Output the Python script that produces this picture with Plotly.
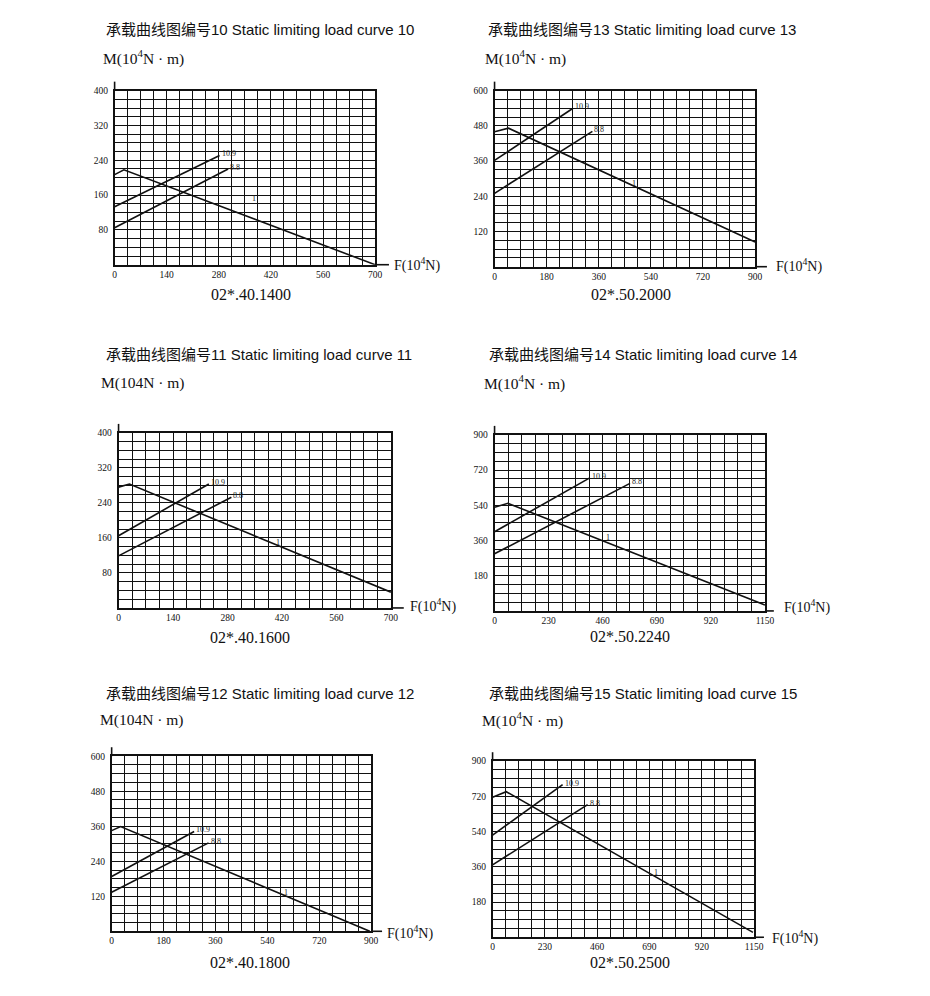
import plotly.graph_objects as go

# page body adds an offset; figure drawn slightly smaller and shifted
OFF_X, OFF_Y = 8, 9
W, H = 914, 980

# ---------------- data ----------------
curve_ids = [10, 13, 11, 14, 12, 15]
models = ["02*.40.1400", "02*.50.2000", "02*.40.1600", "02*.50.2240", "02*.40.1800", "02*.50.2500"]
m_units = ["M(10<sup>4</sup>N · m)", "M(10<sup>4</sup>N · m)", "M(104N · m)",
           "M(10<sup>4</sup>N · m)", "M(104N · m)", "M(10<sup>4</sup>N · m)"]
f_unit = "F(10<sup>4</sup>N)"

x_max = [700, 900, 700, 1150, 900, 1150]
y_max = [400, 600, 400, 900, 600, 900]
x_ticks = [[0, 140, 280, 420, 560, 700],
           [0, 180, 360, 540, 720, 900],
           [0, 140, 280, 420, 560, 700],
           [0, 230, 460, 690, 920, 1150],
           [0, 180, 360, 540, 720, 900],
           [0, 230, 460, 690, 920, 1150]]
y_ticks = [[80, 160, 240, 320, 400],
           [120, 240, 360, 480, 600],
           [80, 160, 240, 320, 400],
           [180, 360, 540, 720, 900],
           [120, 240, 360, 480, 600],
           [180, 360, 540, 720, 900]]
x_minor = [35, 45, 35, 57.5, 45, 57.5]
y_minor = [20, 30, 20, 45, 30, 45]

# curve "1"
c1_f = [[0, 25, 700], [0, 48, 900], [0, 28, 700], [0, 57, 1150], [0, 31, 895], [0, 60, 1145]]
c1_m = [[207, 218, 0], [460, 472, 84], [276, 283, 36], [530, 550, 30], [345, 359, 0], [716, 744, 25]]
# curve "10.9"
c109_f = [[0, 282], [0, 271], [0, 232], [0, 405], [0, 286], [0, 308]]
c109_m = [[133, 251], [362, 540], [165, 283], [405, 680], [188, 342], [522, 780]]
# curve "8.8"
c88_f = [[0, 305], [0, 338], [0, 290], [0, 576], [0, 336], [0, 418]]
c88_m = [[85, 220], [250, 461], [119, 253], [292, 652], [134, 303], [370, 678]]

# ---------------- layout config (reference pixel positions) ----------------
boxes = [(114, 87, 378, 262), (499, 87, 763, 264), (118, 431, 394, 607),
         (499, 433, 773, 610), (111, 756, 374, 932), (497, 761, 762, 938)]
title_pos = [(103, 26), (490, 26), (103, 352), (491, 352), (103, 693), (491, 693)]
m_pos = [(100, 54), (487, 54), (98, 381), (486, 380), (97, 720), (484, 719)]
f_pos = [(395, 262), (782, 263), (411, 605), (790, 606), (388, 933), (778, 938)]
sub_pos = [(252, 292), (637, 292), (251, 637), (636, 636), (251, 963), (636, 963)]
x_ext = [392, 775, 407, 782, 385, 772]
one_label_at = [(374, 151), (483, 285), (409, 150), (484, 377), (603, 133), (720, 333)]

SERIF = "Liberation Serif, Times New Roman, serif"
SANS = "Liberation Sans, Arial, Noto Sans CJK SC, sans-serif"
INK = "#111111"

def px(x):
    return (x - OFF_X) / W

def py(y):
    return 1 - (y - OFF_Y) / H

fig = go.Figure()
annotations = []
shapes = []

for i in range(6):
    n = "" if i == 0 else str(i + 1)
    xa, ya = "x" + n, "y" + n
    l, t, r, b = boxes[i]
    line = dict(color=INK, width=1.6)
    fig.add_trace(go.Scatter(x=c1_f[i], y=c1_m[i], mode="lines", line=line,
                             xaxis=xa, yaxis=ya, showlegend=False, hoverinfo="skip"))
    fig.add_trace(go.Scatter(x=c109_f[i], y=c109_m[i], mode="lines", line=line,
                             xaxis=xa, yaxis=ya, showlegend=False, hoverinfo="skip"))
    fig.add_trace(go.Scatter(x=c88_f[i], y=c88_m[i], mode="lines", line=line,
                             xaxis=xa, yaxis=ya, showlegend=False, hoverinfo="skip"))

    common_grid = dict(showgrid=True, gridcolor=INK, gridwidth=1.4,
                       showline=True, linecolor=INK, linewidth=1.6, mirror=True,
                       zeroline=False, ticks="",
                       tickfont=dict(family=SERIF, size=9.5, color="#111"))
    fig.layout["xaxis" + n] = dict(
        domain=[px(l), px(r)], anchor=ya, range=[0, x_max[i]],
        tickmode="array", tickvals=x_ticks[i], ticktext=[str(v) for v in x_ticks[i]],
        minor=dict(dtick=x_minor[i], tick0=0, showgrid=True, gridcolor=INK, gridwidth=1.4),
        ticklabelstandoff=0, **common_grid)
    fig.layout["yaxis" + n] = dict(
        domain=[py(b), py(t)], anchor=xa, range=[0, y_max[i]],
        tickmode="array", tickvals=y_ticks[i], ticktext=[str(v) for v in y_ticks[i]],
        minor=dict(dtick=y_minor[i], tick0=0, showgrid=True, gridcolor=INK, gridwidth=1.4),
        ticklabelstandoff=3, **common_grid)

    # axis extensions
    shapes.append(dict(type="line", xref="paper", yref="paper",
                       x0=px(r), x1=px(x_ext[i]), y0=py(b), y1=py(b),
                       line=dict(color=INK, width=1.6)))
    shapes.append(dict(type="line", xref="paper", yref="paper",
                       x0=px(l), x1=px(l), y0=py(t), y1=py(t - 9),
                       line=dict(color=INK, width=1.6)))

    # texts
    tx, ty = title_pos[i]
    annotations.append(dict(text=f"承载曲线图编号{curve_ids[i]} Static limiting load curve {curve_ids[i]}",
                            x=px(tx), y=py(ty), xref="paper", yref="paper",
                            xanchor="left", yanchor="middle", showarrow=False,
                            font=dict(family=SANS, size=15, color="#111")))
    mx, my = m_pos[i]
    annotations.append(dict(text=m_units[i], x=px(mx), y=py(my), xref="paper", yref="paper",
                            xanchor="left", yanchor="middle", showarrow=False,
                            font=dict(family=SERIF, size=15.5, color="#111")))
    fx, fy = f_pos[i]
    annotations.append(dict(text=f_unit, x=px(fx), y=py(fy), xref="paper", yref="paper",
                            xanchor="left", yanchor="middle", showarrow=False,
                            font=dict(family=SERIF, size=14, color="#111")))
    sx, sy = sub_pos[i]
    annotations.append(dict(text=models[i], x=px(sx), y=py(sy), xref="paper", yref="paper",
                            xanchor="center", yanchor="middle", showarrow=False,
                            font=dict(family=SERIF, size=16, color="#111")))
    # line labels
    annotations.append(dict(text="10.9", x=c109_f[i][-1], y=c109_m[i][-1], xref=xa, yref=ya,
                            xanchor="left", yanchor="bottom", xshift=0, yshift=-5, showarrow=False,
                            font=dict(family=SERIF, size=8, color="#222")))
    annotations.append(dict(text="8.8", x=c88_f[i][-1], y=c88_m[i][-1], xref=xa, yref=ya,
                            xanchor="left", yanchor="bottom", xshift=0, yshift=-5, showarrow=False,
                            font=dict(family=SERIF, size=8, color="#222")))
    ox, oy = one_label_at[i]
    annotations.append(dict(text="1", x=ox, y=oy, xref=xa, yref=ya,
                            xanchor="center", yanchor="middle", showarrow=False,
                            font=dict(family=SERIF, size=8, color="#222")))

fig.update_layout(width=W, height=H, margin=dict(l=0, r=0, t=0, b=0),
                  paper_bgcolor="white", plot_bgcolor="white",
                  annotations=annotations, shapes=shapes, showlegend=False)

fig.write_html("out.html")
